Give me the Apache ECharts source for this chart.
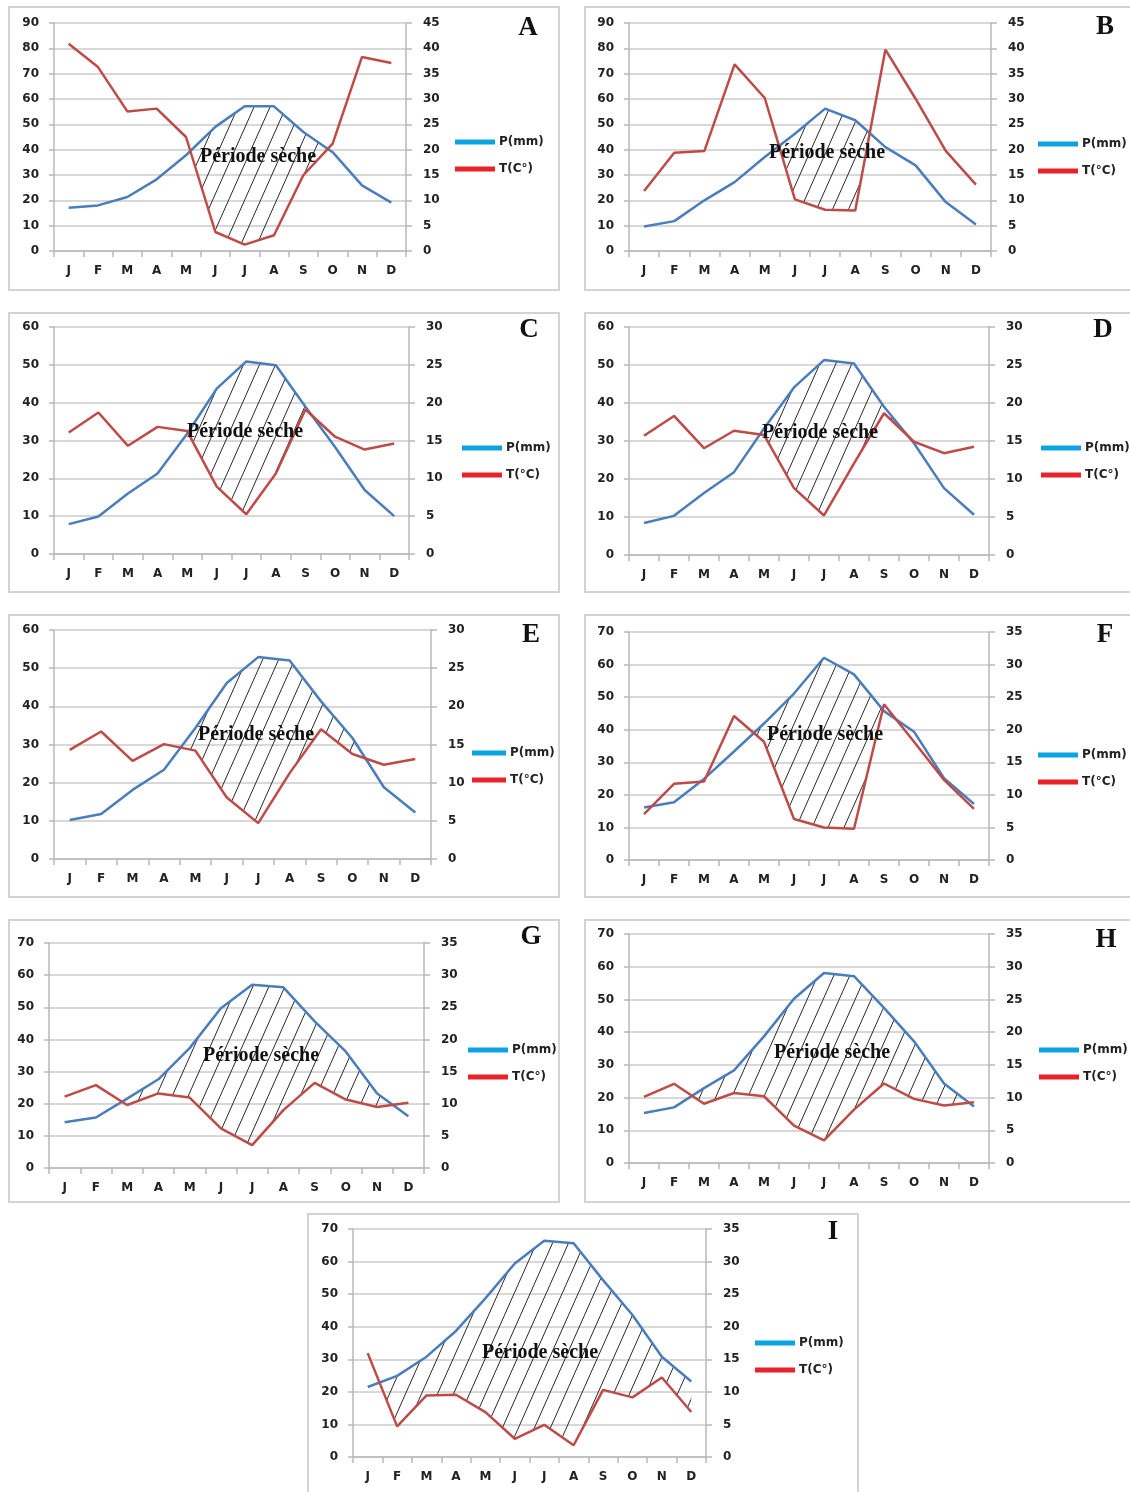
<!DOCTYPE html>
<html>
<head>
<meta charset="utf-8">
<script src="https://cdn.jsdelivr.net/npm/echarts@6.0.0/dist/echarts.min.js"></script>
<style>
html, body { margin: 0; padding: 0; background: #fff; width: 1130px; height: 1492px; overflow: hidden; position: relative; }
.panel { position: absolute; width: 552px; height: 285px; border: 2px solid #d3d3d3; box-sizing: border-box; background: #fff; }
</style>
</head>
<body>
<div id="pA" class="panel" style="left:8px;top:6px"></div>
<div id="pB" class="panel" style="left:584px;top:6px"></div>
<div id="pC" class="panel" style="left:8px;top:312px;height:281px"></div>
<div id="pD" class="panel" style="left:584px;top:312px;height:281px"></div>
<div id="pE" class="panel" style="left:8px;top:614px;height:284px"></div>
<div id="pF" class="panel" style="left:584px;top:614px;height:284px"></div>
<div id="pG" class="panel" style="left:8px;top:919px;height:284px"></div>
<div id="pH" class="panel" style="left:584px;top:919px;height:284px"></div>
<div id="pI" class="panel" style="left:307px;top:1213px"></div>
<script>
// mois
const months = ['J', 'F', 'M', 'A', 'M', 'J', 'J', 'A', 'S', 'O', 'N', 'D'];

const pA = [17.1, 18, 21.3, 28.3, 37.8, 49, 57.1, 57.1, 47, 39, 25.9, 19.1];
const tA = [81.8, 72.6, 55.1, 56.2, 45, 7.5, 2.5, 6.2, 29.9, 42.4, 76.6, 74.2];
const pB = [9.7, 11.8, 20, 27.2, 37.1, 46.3, 56.2, 51.6, 41, 33.8, 19.3, 10.5];
const tB = [23.7, 38.8, 39.5, 73.7, 60.4, 20.4, 16.3, 16, 79.5, 60.1, 39.5, 26.2];
const pC = [7.9, 9.9, 16, 21.3, 31.8, 43.7, 50.9, 49.9, 38.9, 28.3, 16.9, 10];
const tC = [32.1, 37.4, 28.6, 33.6, 32.5, 17.8, 10.5, 21.3, 38.2, 31, 27.6, 29.2];
const pD = [8.4, 10.3, 16.3, 21.8, 33.3, 44.1, 51.3, 50.4, 39, 29.4, 17.6, 10.6];
const tD = [31.4, 36.6, 28.1, 32.7, 31.6, 17.6, 10.4, 24.1, 37.3, 29.8, 26.8, 28.5];
const pE = [10.2, 11.8, 18.1, 23.4, 34.3, 46.1, 52.9, 52, 41.3, 31.7, 18.8, 12.2];
const tE = [28.6, 33.4, 25.7, 30.1, 28.4, 16.1, 9.4, 22.5, 34, 27.5, 24.7, 26.2];
const pF = [16.1, 17.7, 24.9, 33.3, 41.9, 51.1, 62.1, 57, 45.7, 39.4, 25.1, 17.2];
const tF = [14.1, 23.4, 24.1, 44.2, 36.3, 12.6, 10, 9.6, 47.8, 36.3, 24.6, 15.7];
const pG = [14.2, 15.7, 21.6, 27.6, 37.3, 49.7, 57, 56.2, 45.6, 36.2, 23.2, 16.1];
const tG = [22.2, 25.8, 19.6, 23.2, 21.9, 12.3, 7.1, 18, 26.5, 21.3, 19, 20.3];
const pH = [15.3, 17, 22.9, 28.3, 38.7, 50.2, 58.1, 57.1, 47.4, 37.2, 24.3, 17.3];
const tH = [20.2, 24.2, 18.1, 21.4, 20.4, 11.4, 6.9, 16.3, 24.3, 19.6, 17.6, 18.6];
const pI = [21.5, 24.9, 30.8, 38.7, 48.7, 59.4, 66.4, 65.6, 54.3, 43.6, 30.8, 23.2];
const tI = [31.9, 9.4, 18.9, 19.1, 13.8, 5.6, 9.9, 3.6, 20.6, 18.3, 24.4, 13.8];

// maximum de l'axe de gauche (l'axe de droite vaut la moitié)
const leftMax = { A: 90, B: 90, C: 60, D: 60, E: 60, F: 70, G: 70, H: 70, I: 70 };

const FONT = 'DejaVu Sans';

// motif hachuré de la période sèche
function makeHatch() {
    const w = 16, h = 36;
    const c = document.createElement('canvas');
    c.width = w;
    c.height = h;
    const ctx = c.getContext('2d');
    ctx.strokeStyle = '#2a2a2a';
    ctx.lineWidth = 1;
    for (let k = -1; k <= 1; k++) {
        ctx.beginPath();
        ctx.moveTo(k * w, h);
        ctx.lineTo(k * w + w, 0);
        ctx.stroke();
    }
    return c;
}
const hatch = makeHatch();

// polygone entre les deux courbes là où la bleue passe au-dessus de la rouge (plus grand tronçon)
function dryPolygon(blue, red, api) {
    const pb = blue.map((v, i) => api.coord([i, v]));
    const pr = red.map((v, i) => api.coord([i, v]));
    const diff = blue.map((v, i) => v - red[i]);
    const crossAt = i => {
        const t = diff[i] / (diff[i] - diff[i + 1]);
        return [pr[i][0] + t * (pr[i + 1][0] - pr[i][0]), pr[i][1] + t * (pr[i + 1][1] - pr[i][1])];
    };
    let best = null, cur = null;
    for (let i = 0; i < diff.length; i++) {
        if (diff[i] > 0) {
            if (!cur) {
                cur = { top: [], bot: [], area: 0 };
                if (i > 0) cur.top.push(crossAt(i - 1));
            }
            cur.top.push(pb[i]);
            cur.bot.push(pr[i]);
            cur.area += diff[i];
        }
        if (cur && (diff[i] <= 0 || i === diff.length - 1)) {
            if (diff[i] <= 0) cur.top.push(crossAt(i - 1));
            if (!best || cur.area > best.area) best = cur;
            cur = null;
        }
    }
    return best ? best.top.concat(best.bot.reverse()) : [];
}

function renderPanel(key, blue, red, tName, cfg) {
    const chart = echarts.init(document.getElementById('p' + key));
    const yMax = leftMax[key];
    const labelStyle = { fontFamily: FONT, fontWeight: 'bold', fontSize: 12, color: '#222' };
    const axisGrey = { color: '#b8b8b8', width: 1.5 };
    const option = {
        animation: false,
        grid: { left: cfg.grid[0], top: cfg.grid[1], width: cfg.grid[2], height: cfg.grid[3], outerBoundsMode: 'none' },
        legend: {
            orient: 'vertical',
            left: cfg.legend[0],
            top: cfg.legend[1],
            itemWidth: cfg.legendWidth || 40,
            itemHeight: 5,
            itemGap: 15,
            icon: 'rect',
            selectedMode: false,
            textStyle: { fontFamily: FONT, fontWeight: 'bold', fontSize: 12, color: '#222', padding: [0, 0, 4, -1] },
            data: [
                { name: 'P(mm)', itemStyle: { color: '#0ba3e2' } },
                { name: tName, itemStyle: { color: '#e8232a' } }
            ]
        },
        xAxis: {
            type: 'category',
            data: months,
            boundaryGap: true,
            axisLine: { lineStyle: axisGrey },
            axisTick: { show: true, length: 6, lineStyle: axisGrey },
            axisLabel: Object.assign({ margin: 14, interval: 0 }, labelStyle),
            splitLine: { show: false }
        },
        yAxis: [{
            type: 'value',
            position: 'left',
            min: 0,
            max: yMax,
            interval: 10,
            axisLine: { show: true, lineStyle: axisGrey },
            axisTick: { show: true, length: 5, lineStyle: axisGrey },
            axisLabel: Object.assign({ margin: 15 }, labelStyle),
            splitLine: { show: true, lineStyle: { color: '#cbcbcb', width: 1.5 } }
        }, {
            type: 'value',
            position: 'right',
            min: 0,
            max: yMax / 2,
            interval: 5,
            axisLine: { show: true, lineStyle: axisGrey },
            axisTick: { show: true, length: 6, lineStyle: axisGrey },
            axisLabel: Object.assign({ margin: 17, align: 'left' }, labelStyle),
            splitLine: { show: false }
        }],
        graphic: [{
            type: 'text',
            z: 10,
            x: cfg.dry[0],
            y: cfg.dry[1],
            style: {
                text: 'Période sèche',
                font: 'bold 20px "Liberation Serif"',
                fill: '#111',
                align: 'center',
                verticalAlign: 'middle',
                shadowBlur: 2,
                shadowColor: 'rgba(0,0,0,0.35)'
            }
        }, {
            type: 'text',
            z: 10,
            x: cfg.letter[0],
            y: cfg.letter[1],
            style: {
                text: key,
                font: 'bold 27px "Liberation Serif"',
                fill: '#111',
                align: 'center',
                verticalAlign: 'middle'
            }
        }],
        series: [{
            type: 'custom',
            silent: true,
            z: 1,
            renderItem: (params, api) => ({
                type: 'polygon',
                shape: { points: dryPolygon(blue, red, api) },
                style: { fill: { image: hatch, repeat: 'repeat' }, stroke: null }
            }),
            data: [[0, 0]]
        }, {
            name: 'P(mm)',
            type: 'line',
            yAxisIndex: 0,
            symbol: 'none',
            z: 3,
            lineStyle: { color: '#4a7ebb', width: 2.5 },
            itemStyle: { color: '#4a7ebb' },
            data: blue
        }, {
            name: tName,
            type: 'line',
            yAxisIndex: 0,
            symbol: 'none',
            z: 3,
            lineStyle: { color: '#be4b48', width: 2.5 },
            itemStyle: { color: '#be4b48' },
            data: red
        }]
    };
    chart.setOption(option);
}

renderPanel('A', pA, tA, 'T(C°)', { grid: [44, 15, 352, 228], legend: [440, 123], dry: [248, 149], letter: [518, 20] });
renderPanel('B', pB, tB, 'T(°C)', { grid: [43, 15, 362, 228], legend: [447, 125], dry: [241, 145], letter: [519, 19] });
renderPanel('C', pC, tC, 'T(°C)', { grid: [44, 13, 355, 227], legend: [447, 123], dry: [235, 118], letter: [519, 16] });
renderPanel('D', pD, tD, 'T(C°)', { grid: [43, 13, 360, 228], legend: [450, 123], dry: [234, 119], letter: [517, 16] });
renderPanel('E', pE, tE, 'T(°C)', { grid: [44, 14, 377, 229], legend: [457, 126], legendWidth: 34, dry: [246, 119], letter: [521, 19] });
renderPanel('F', pF, tF, 'T(°C)', { grid: [43, 16, 360, 228], legend: [447, 128], dry: [239, 119], letter: [519, 19] });
renderPanel('G', pG, tG, 'T(C°)', { grid: [39, 22, 375, 225], legend: [453, 118], dry: [251, 135], letter: [521, 16] });
renderPanel('H', pH, tH, 'T(C°)', { grid: [43, 13, 360, 229], legend: [448, 118], dry: [246, 132], letter: [520, 19] });
renderPanel('I', pI, tI, 'T(C°)', { grid: [44, 14, 353, 228], legend: [441, 117], dry: [231, 138], letter: [524, 17] });
</script>
</body>
</html>
